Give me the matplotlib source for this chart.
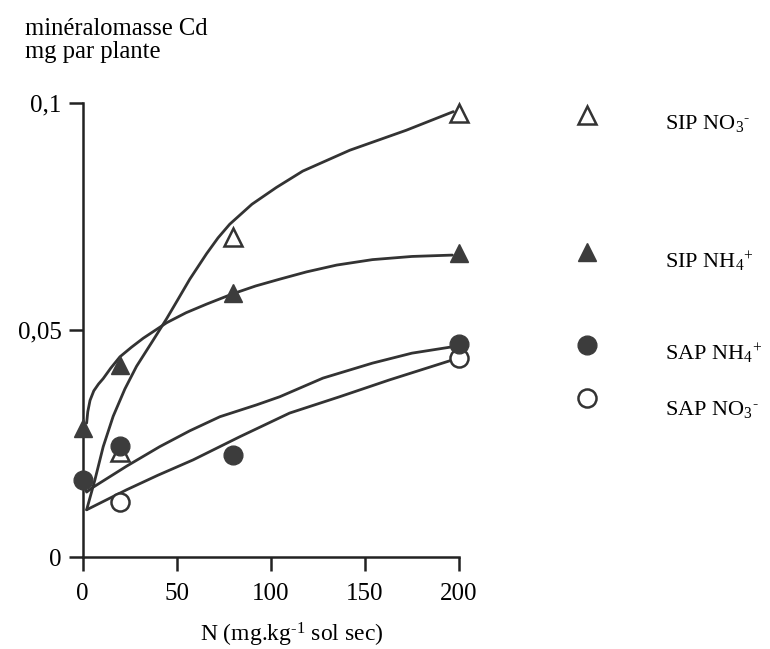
import matplotlib
matplotlib.use("Agg")
import matplotlib.pyplot as plt

plt.rcParams['font.family'] = ['Liberation Serif', 'DejaVu Serif']
plt.rcParams['mathtext.fontset'] = 'custom'
plt.rcParams['mathtext.rm'] = 'Liberation Serif'
plt.rcParams['mathtext.it'] = 'Liberation Serif:italic'

# points mesures
x_sip_no3 = [20, 80, 200]
y_sip_no3 = [0.0231, 0.0705, 0.0978]
x_sip_nh4 = [0, 20, 80, 200]
y_sip_nh4 = [0.0284, 0.0423, 0.0581, 0.0669]
x_sap_nh4 = [0, 20, 80, 200]
y_sap_nh4 = [0.0170, 0.0245, 0.0225, 0.0469]
x_sap_no3 = [20, 200]
y_sap_no3 = [0.0122, 0.0438]

# courbes ajustees
cx_sip_no3 = [2.2, 6.6, 11, 16.3, 22.5, 28.7, 37.6, 44.7, 50.8, 57, 65.9, 72, 78.2, 90, 103, 117,
              142, 172, 197]
cy_sip_no3 = [0.0104, 0.017, 0.0243, 0.031, 0.0370, 0.0420, 0.0478, 0.0525, 0.0568, 0.0612,
              0.0668, 0.0703, 0.0733, 0.0777, 0.0814, 0.0850, 0.0896, 0.094, 0.0981]
cx_sip_nh4 = [2.2, 2.8, 4, 6, 8.5, 11, 15, 19.9, 26, 32.3, 44.7, 55, 65.9, 80, 92, 104.8, 119,
              135, 154, 175, 196.5]
cy_sip_nh4 = [0.0295, 0.0320, 0.0345, 0.0366, 0.0381, 0.0393, 0.0416, 0.0441, 0.0462, 0.0482,
              0.0516, 0.0538, 0.0557, 0.0580, 0.0597, 0.0612, 0.0628, 0.0643, 0.0655, 0.0662, 0.0665]
cx_sap_nh4 = [1.0, 2.2, 5, 23.4, 41, 57, 73, 92.4, 104.8, 127.7, 154, 175, 196.5]
cy_sap_nh4 = [0.0158, 0.0143, 0.0152, 0.0200, 0.0243, 0.0278, 0.0309, 0.0335, 0.0353, 0.0394,
              0.0427, 0.0449, 0.0463]
cx_sap_no3 = [2.2, 23.4, 40, 58.8, 83.6, 110, 136.6, 163, 196.5]
cy_sap_no3 = [0.0104, 0.0148, 0.0180, 0.0214, 0.0265, 0.0317, 0.0353, 0.039, 0.0434]

legend_labels = [r'SIP NO$_\mathrm{3}$$^\mathrm{‐}$', r'SIP NH$_\mathrm{4}$$^\mathrm{+}$',
                 r'SAP NH$_\mathrm{4}$$^\mathrm{+}$', r'SAP NO$_\mathrm{3}$$^\mathrm{‐}$']

W, H = 770, 649
fig = plt.figure(figsize=(W / 100, H / 100), dpi=100)
ax = fig.add_axes([82.5 / W, (H - 557) / H, (459 - 82.5) / W, (557 - 103) / H])

lc = '#333333'
fc = '#3c3c3c'

for cx, cy in [(cx_sip_no3, cy_sip_no3), (cx_sip_nh4, cy_sip_nh4),
               (cx_sap_nh4, cy_sap_nh4), (cx_sap_no3, cy_sap_no3)]:
    ax.plot(cx, cy, color=lc, linewidth=2.0, solid_capstyle='round', solid_joinstyle='round',
            clip_on=False)

ax.plot(x_sip_no3, y_sip_no3, '^', ms=13, mfc='white', mec=lc, mew=1.8, ls='none', clip_on=False, zorder=3)
ax.plot(x_sip_nh4, y_sip_nh4, '^', ms=13, mfc=fc, mec=fc, ls='none', clip_on=False, zorder=3)
ax.plot(x_sap_no3, y_sap_no3, 'o', ms=13, mfc='white', mec=lc, mew=1.8, ls='none', clip_on=False, zorder=3)
ax.plot(x_sap_nh4, y_sap_nh4, 'o', ms=13.5, mfc=fc, mec=fc, ls='none', clip_on=False, zorder=4)

ax.set_xlim(0, 200)
ax.set_ylim(0, 0.1)
ax.set_xticks([0, 50, 100, 150, 200])
ax.set_yticks([0, 0.05, 0.1])
ax.set_yticklabels(['0', '0,05', '0,1'])
for s in ['top', 'right']:
    ax.spines[s].set_visible(False)
for s in ['left', 'bottom']:
    ax.spines[s].set_linewidth(1.8)
    ax.spines[s].set_color('#222222')
ax.tick_params(direction='out', length=10, width=1.8, color='#222222', labelsize=18)
ax.tick_params(axis='x', pad=9)
ax.tick_params(axis='y', pad=5)

fig.text(25 / W, 1 - 35 / H, 'minéralomasse Cd', fontsize=17.7, va='baseline', ha='left')
fig.text(25 / W, 1 - 58 / H, 'mg par plante', fontsize=17.7, va='baseline', ha='left')
fig.text(292 / W, 1 - 635 / H, r'N (mg.kg$^\mathrm{‐1}$ sol sec)', fontsize=17, ha='center', va='center')

# legende a droite
leg_y = [115, 252, 345, 398]
txt_y = [124, 262, 354, 409]
styles = [dict(marker='^', mfc='white', mec=lc, mew=1.8, ms=13),
          dict(marker='^', mfc=fc, mec=fc, ms=13),
          dict(marker='o', mfc=fc, mec=fc, ms=13.5),
          dict(marker='o', mfc='white', mec=lc, mew=1.8, ms=13)]
for yy, ty, st, lab in zip(leg_y, txt_y, styles, legend_labels):
    fig.lines.append(plt.Line2D([587 / W], [1 - yy / H], transform=fig.transFigure, ls='none', **st))
    fig.text(665 / W, 1 - ty / H, lab, fontsize=16, ha='left', va='center')

fig.savefig('out.png', dpi=100)
